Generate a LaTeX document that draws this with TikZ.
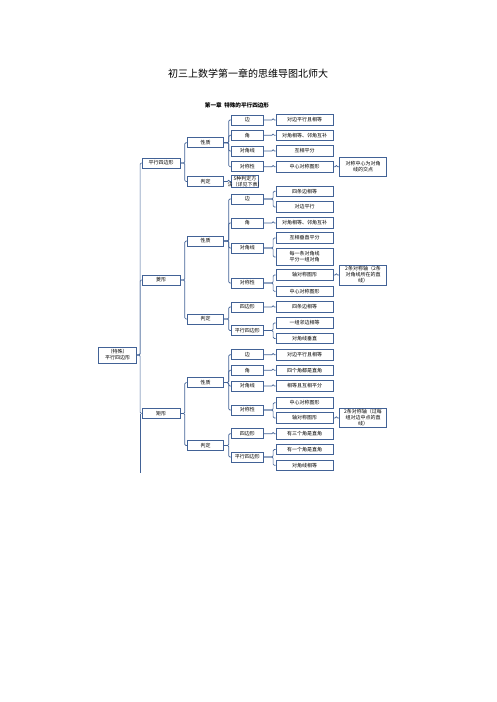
\documentclass[tikz,border=0pt]{standalone}
\usepackage{fontspec}
\setmainfont{Noto Sans CJK SC}
\usetikzlibrary{calc}
\definecolor{frame}{RGB}{66,98,150}
\tikzset{
  bx/.style={draw=frame, line width=0.8pt, fill=white, inner sep=0.5pt, align=center,
             font=\fontsize{5}{6}\selectfont, text=black},
  lvA/.style={bx, minimum width=38pt, minimum height=10pt},
  lvB/.style={bx, minimum width=35.6pt, minimum height=10pt},
  lvC/.style={bx, minimum width=31.3pt, minimum height=10pt},
  lvD/.style={bx, minimum width=57pt, minimum height=10.5pt},
  lvE/.style={bx, minimum width=47.5pt, minimum height=19pt},
  conn/.style={draw=frame, line width=0.7pt, rounded corners=1.2pt},
}
% parent -> child: horizontal out of the parent, vertical bus, horizontal into the child
\newcommand\branch[3][2.5pt]{\draw[conn] (#2.east) -- ($(#3.west |- #2.east)+(-#1,0)$) |- (#3.west);}
\begin{document}
\begin{tikzpicture}[x=1pt,y=-1pt]
\useasboundingbox (0,0) rectangle (496,702);

\node[font=\fontsize{10}{12}\selectfont] (title) at (248,74) {初三上数学第一章的思维导图北师大};
\node[font=\fontsize{5.6}{7}\selectfont\bfseries] (sub) at (237,105) {第一章\ \ 特殊的平行四边形};

% root
\node[bx, minimum width=38.4pt, minimum height=16pt] (root) at (117.5,355) {（特殊）\\平行四边形};

% ---------------- 平行四边形 ----------------
\node[lvA] (px) at (161,163) {平行四边形};
\node[lvB] (pxz) at (205.5,142.7) {性质};
\node[lvB] (ppd) at (205.5,181.5) {判定};
\node[lvC] (pb) at (247.3,120) {边};
\node[lvC] (pj) at (247.3,135.3) {角};
\node[lvC] (pd) at (247.3,151) {对角线};
\node[lvC] (ps) at (247.3,166.7) {对称性};
\node[bx, minimum width=27pt, minimum height=11pt] (ppt) at (245,181.5)
  {\makebox[24pt]{5种判定方}\\\makebox[24pt]{法（详见下表）}};
\node[lvD] (pb1) at (304.5,120) {对边平行且相等};
\node[lvD] (pj1) at (304.5,135.3) {对角相等、邻角互补};
\node[lvD] (pd1) at (304.5,151) {互相平分};
\node[lvD] (ps1) at (304.5,166.7) {中心对称图形};
\node[lvE] (ps1a) at (363,166.7) {对称中心为对角\\线的交点};

% ---------------- 菱形 ----------------
\node[lvA] (rh) at (161,280) {菱形};
\node[lvB] (rxz) at (205.5,241) {性质};
\node[lvB] (rpd) at (205.5,319) {判定};
\node[lvC] (rb) at (247.3,199) {边};
\node[lvC] (rj) at (247.3,223) {角};
\node[lvC] (rd) at (247.3,248) {对角线};
\node[lvC] (rs) at (247.3,283) {对称性};
\node[lvC] (rp1) at (247.3,307) {四边形};
\node[lvC] (rp2) at (247.3,330.5) {平行四边形};
\node[lvD] (rb1) at (304.5,191.3) {四条边相等};
\node[lvD] (rb2) at (304.5,207) {对边平行};
\node[lvD] (rj1) at (304.5,223) {对角相等、邻角互补};
\node[lvD] (rd1) at (304.5,238) {互相垂直平分};
\node[lvD, minimum height=17.4pt] (rd2) at (304.5,257) {每一条对角线\\平分一组对角};
\node[lvD] (rs1) at (304.5,275) {轴对称图形};
\node[lvD] (rs2) at (304.5,291.3) {中心对称图形};
\node[lvE, minimum height=20pt] (rs1a) at (363,275) {2条对称轴（2条\\对角线所在的直\\线）};
\node[lvD] (rp1a) at (304.5,307) {四条边相等};
\node[lvD] (rp2a) at (304.5,323) {一组邻边相等};
\node[lvD] (rp2b) at (304.5,338.5) {对角线垂直};

% ---------------- 矩形 ----------------
\node[lvA] (rc) at (161,413.5) {矩形};
\node[lvB] (cxz) at (205.5,382.6) {性质};
\node[lvB] (cpd) at (205.5,445.5) {判定};
\node[lvC] (cb) at (247.3,354.7) {边};
\node[lvC] (cj) at (247.3,370.3) {角};
\node[lvC] (cd) at (247.3,386) {对角线};
\node[lvC] (cs) at (247.3,410) {对称性};
\node[lvC] (cp1) at (247.3,433.7) {四边形};
\node[lvC] (cp2) at (247.3,457) {平行四边形};
\node[lvD] (cb1) at (304.5,354.7) {对边平行且相等};
\node[lvD] (cj1) at (304.5,370.3) {四个角都是直角};
\node[lvD] (cd1) at (304.5,386) {相等且互相平分};
\node[lvD] (cs1) at (304.5,402.7) {中心对称图形};
\node[lvD] (cs2) at (304.5,418) {轴对称图形};
\node[lvE] (cs2a) at (363,418) {2条对称轴（过每\\组对边中点的直\\线）};
\node[lvD] (cp1a) at (304.5,433.7) {有三个角是直角};
\node[lvD] (cp2a) at (304.5,449.5) {有一个角是直角};
\node[lvD] (cp2b) at (304.5,465.3) {对角线相等};

% ---------------- connectors ----------------
\branch[1.5pt]{root}{px}
\branch[1.5pt]{root}{rh}
\branch[1.5pt]{root}{rc}
\coordinate (busend) at (140.5,473);
\draw[conn] (rc.west -| busend) -- (busend);

\branch{px}{pxz} \branch{px}{ppd}
\branch{pxz}{pb} \branch{pxz}{pj} \branch{pxz}{pd} \branch{pxz}{ps}
\branch{ppd}{ppt}
\branch{pb}{pb1} \branch{pj}{pj1} \branch{pd}{pd1} \branch{ps}{ps1}
\branch{ps1}{ps1a}

\branch{rh}{rxz} \branch{rh}{rpd}
\branch{rxz}{rb} \branch{rxz}{rj} \branch{rxz}{rd} \branch{rxz}{rs}
\branch{rpd}{rp1} \branch{rpd}{rp2}
\branch{rb}{rb1} \branch{rb}{rb2} \branch{rj}{rj1}
\branch{rd}{rd1} \branch{rd}{rd2}
\branch{rs}{rs1} \branch{rs}{rs2}
\branch{rs1}{rs1a}
\branch{rp1}{rp1a} \branch{rp2}{rp2a} \branch{rp2}{rp2b}

\branch{rc}{cxz} \branch{rc}{cpd}
\branch{cxz}{cb} \branch{cxz}{cj} \branch{cxz}{cd} \branch{cxz}{cs}
\branch{cpd}{cp1} \branch{cpd}{cp2}
\branch{cb}{cb1} \branch{cj}{cj1} \branch{cd}{cd1}
\branch{cs}{cs1} \branch{cs}{cs2}
\branch{cs2}{cs2a}
\branch{cp1}{cp1a} \branch{cp2}{cp2a} \branch{cp2}{cp2b}
\end{tikzpicture}
\end{document}
